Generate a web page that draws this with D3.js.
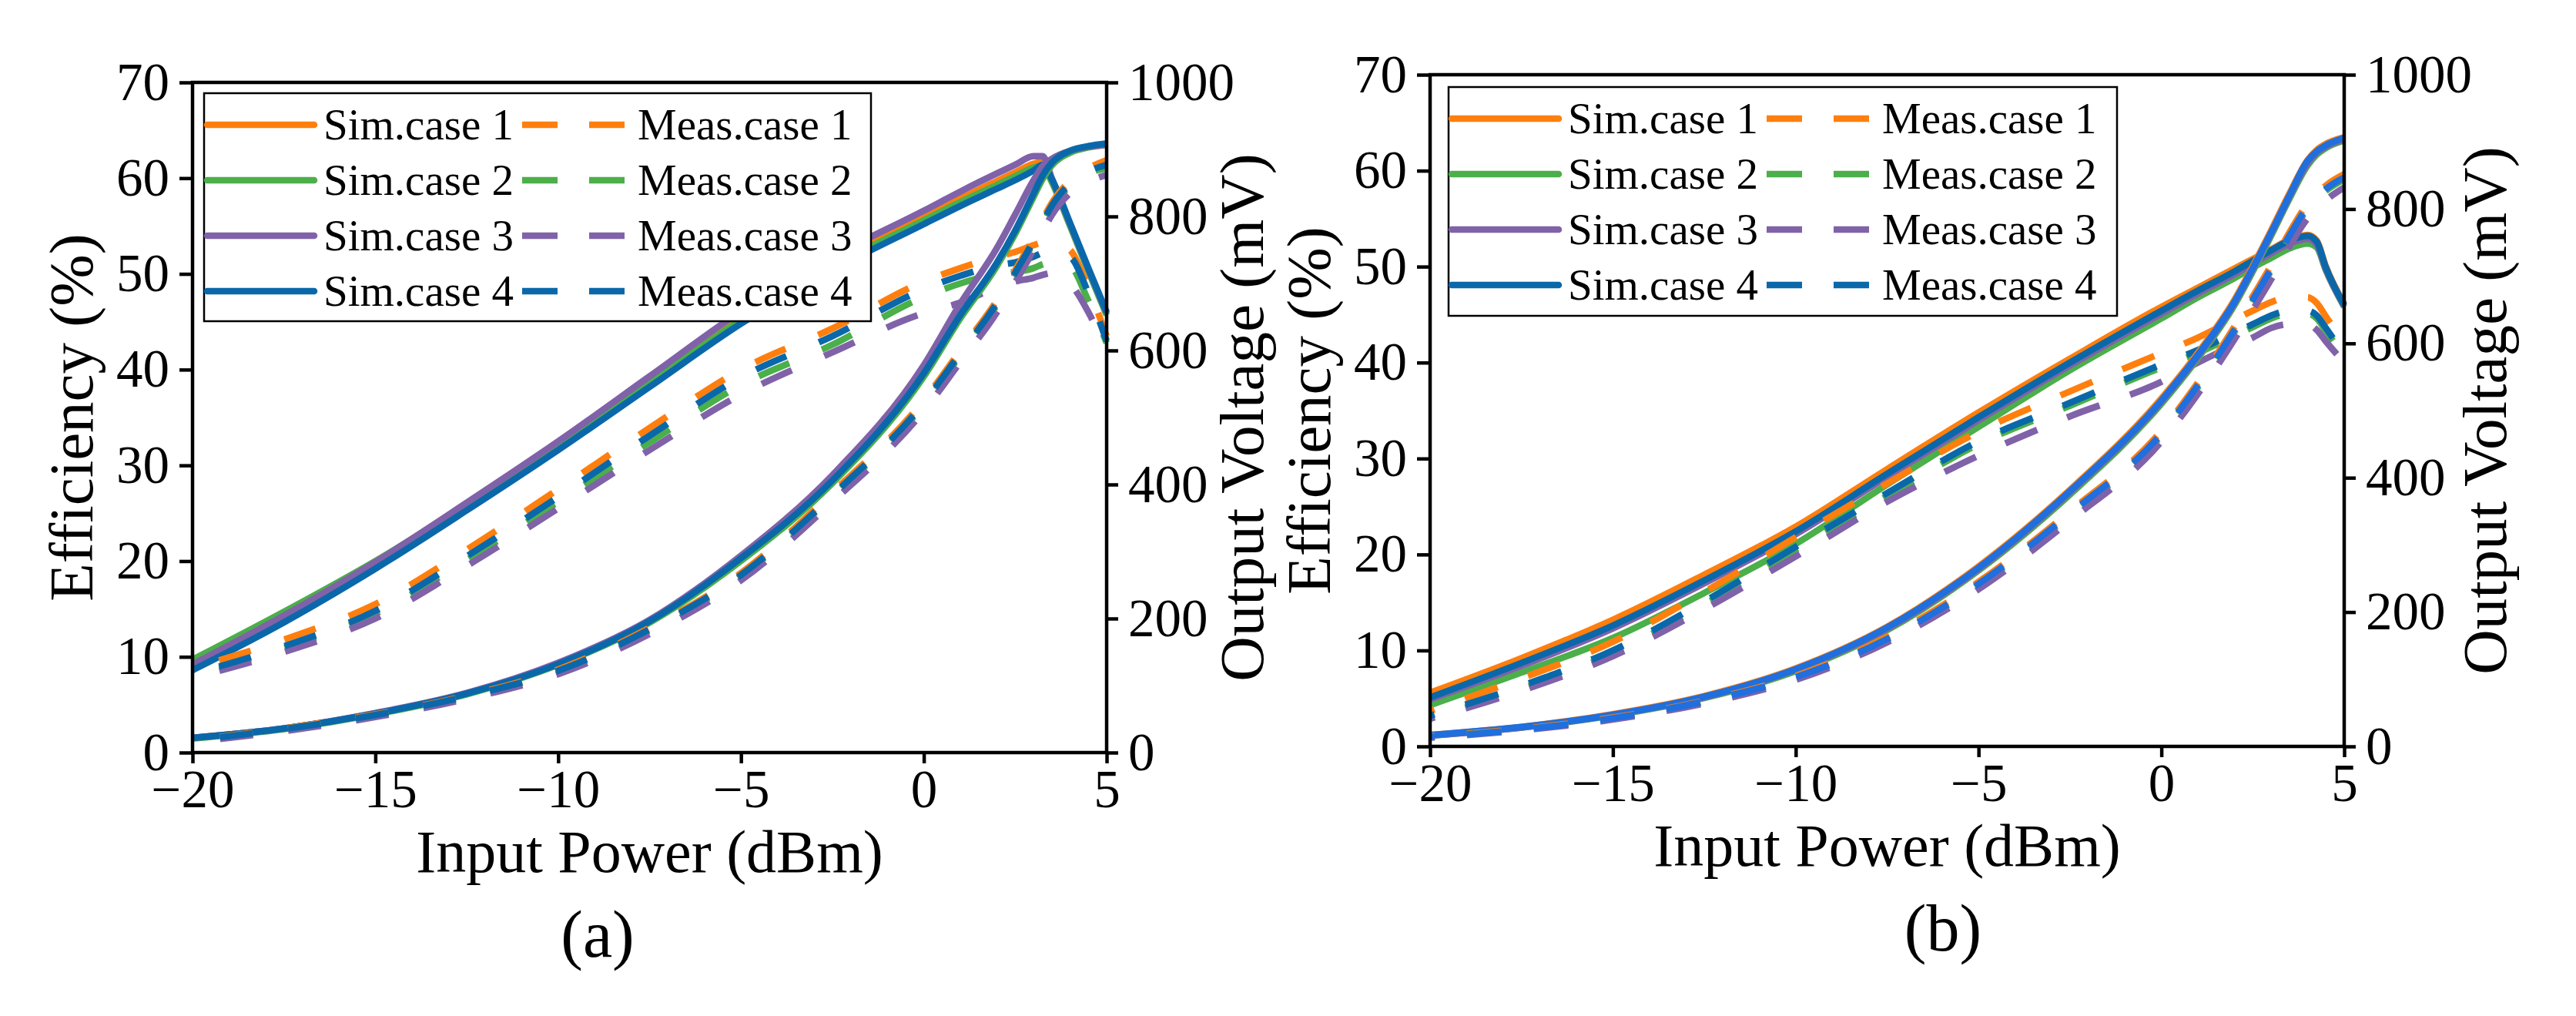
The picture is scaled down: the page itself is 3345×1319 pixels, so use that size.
<!DOCTYPE html>
<html lang="en">
<head>
<meta charset="UTF-8">
<title>Efficiency and output voltage vs input power</title>
<style>
    body { background: white; margin: 0; padding: 0; }
    svg text { font-family: "Liberation Serif", "Times New Roman", serif; fill: #000; }
</style>
</head>
<body>
<script src="https://cdn.jsdelivr.net/npm/d3@7"></script>
<script>
    // input power grid (dBm) for each panel
    var pinA = [-20, -17.5, -15, -12.5, -10, -7.5, -5, -2.5, 0, 1, 2, 2.5, 3, 3.25, 3.5, 4, 4.5, 5];
    var pinB = [-20, -17.5, -15, -12.5, -10, -7.5, -5, -2.5, 0, 1, 2, 2.5, 3, 3.5, 4, 4.25, 4.5, 5];

    var caseNames = ["case 1", "case 2", "case 3", "case 4"];

    // panel (a) efficiency (%), case 1..4
    var effSimA = [
        [9.3, 14.3, 19.8, 25.9, 32.2, 38.9, 45.6, 51.2, 56.0, 57.9, 59.7, 60.6, 61.5, 61.7, 59.8, 55.1, 50.4, 45.8],
        [9.7, 14.7, 20.0, 25.9, 32.0, 38.6, 45.2, 50.8, 55.6, 57.5, 59.3, 60.2, 61.1, 61.3, 59.6, 55.0, 50.3, 45.7],
        [9.2, 14.3, 19.9, 26.1, 32.5, 39.3, 46.1, 51.8, 56.6, 58.6, 60.5, 61.4, 62.3, 62.3, 60.0, 55.2, 50.5, 45.9],
        [8.6, 13.6, 19.2, 25.3, 31.6, 38.2, 44.8, 50.4, 55.2, 57.1, 58.9, 59.8, 60.8, 61.4, 59.9, 55.3, 50.6, 46.0]
    ];
    var effMeasA = [
        [8.8, 11.8, 15.5, 21.2, 27.5, 33.9, 40.0, 44.3, 49.2, 50.6, 51.8, 52.3, 53.0, 53.3, 53.4, 52.5, 48.5, 43.5],
        [8.0, 10.9, 14.5, 20.1, 26.2, 32.4, 38.4, 42.6, 47.6, 49.0, 50.0, 50.2, 50.6, 51.0, 51.2, 50.8, 47.2, 42.8],
        [7.8, 10.5, 14.0, 19.5, 25.5, 31.6, 37.4, 41.8, 45.9, 47.0, 48.6, 49.2, 49.6, 49.9, 50.1, 49.0, 46.0, 42.0],
        [8.2, 11.1, 14.8, 20.5, 26.7, 33.1, 39.2, 43.5, 48.4, 49.8, 50.9, 51.2, 51.8, 52.2, 52.4, 51.8, 48.0, 43.0]
    ];
    // panel (a) output voltage (mV)
    var voltSimA = [
        [22, 36, 58, 88, 132, 195, 288, 404, 563, 650, 728, 776, 831, 858, 877, 896, 904, 908],
        [21, 35, 57, 87, 131, 194, 286, 402, 561, 648, 726, 774, 829, 856, 876, 895, 903, 907],
        [22, 36, 59, 89, 134, 198, 294, 414, 578, 670, 753, 803, 854, 875, 886, 898, 904, 907],
        [22, 36, 58, 88, 132, 196, 290, 406, 566, 653, 731, 779, 834, 861, 880, 898, 905, 909]
    ];
    var voltMeasA = [
        [18, 36, 57, 85, 124, 186, 268, 388, 526, 600, 675, 720, 768, 795, 820, 853, 872, 884],
        [17, 34, 55, 83, 121, 182, 263, 382, 519, 593, 668, 713, 761, 788, 813, 846, 864, 872],
        [16, 32, 53, 80, 117, 177, 257, 374, 510, 583, 657, 702, 750, 777, 802, 835, 852, 862],
        [18, 35, 56, 84, 122, 184, 265, 384, 522, 596, 671, 716, 764, 791, 816, 849, 867, 877]
    ];

    // panel (b) efficiency (%)
    var effSimB = [
        [5.6, 9.2, 13.2, 17.9, 22.9, 28.9, 34.8, 40.4, 45.8, 47.8, 49.8, 50.8, 51.8, 52.8, 53.3, 52.7, 50.0, 46.1],
        [4.3, 7.7, 11.3, 16.0, 21.1, 27.3, 33.3, 39.2, 44.6, 46.8, 48.8, 49.9, 50.9, 51.9, 52.4, 52.0, 49.6, 45.8],
        [4.9, 8.4, 12.3, 17.0, 22.1, 28.1, 34.0, 39.7, 45.1, 47.2, 49.2, 50.3, 51.4, 52.4, 52.9, 52.3, 49.7, 45.9],
        [5.1, 8.7, 12.6, 17.3, 22.4, 28.4, 34.3, 40.0, 45.4, 47.5, 49.5, 50.6, 51.7, 52.7, 53.2, 52.6, 49.9, 46.0]
    ];
    var effMeasB = [
        [3.7, 7.1, 10.9, 16.1, 21.8, 27.4, 32.8, 37.0, 41.0, 42.6, 44.5, 45.4, 46.3, 46.8, 46.8, 46.2, 44.8, 42.0],
        [2.9, 6.0, 9.7, 14.8, 20.5, 26.1, 31.5, 35.5, 39.5, 41.0, 42.8, 43.7, 44.6, 45.1, 45.1, 44.6, 43.3, 40.6],
        [2.9, 5.8, 9.4, 14.3, 19.8, 25.5, 30.3, 34.4, 38.0, 40.0, 41.8, 42.6, 43.6, 44.0, 44.0, 43.4, 42.2, 40.0],
        [3.2, 6.3, 10.0, 15.1, 20.8, 26.4, 31.8, 35.8, 39.8, 41.3, 43.1, 44.0, 44.9, 45.4, 45.4, 44.9, 43.6, 40.8]
    ];
    // panel (b) output voltage (mV)
    var voltSimB = [
        [17, 29, 48, 75, 116, 178, 268, 382, 518, 586, 665, 715, 768, 823, 873, 888, 897, 907],
        [16, 28, 46, 72, 112, 173, 262, 375, 510, 578, 657, 707, 760, 815, 865, 881, 891, 902],
        [16, 28, 47, 73, 114, 175, 264, 378, 513, 581, 660, 710, 763, 818, 868, 884, 893, 904],
        [17, 29, 47, 74, 115, 177, 266, 380, 515, 583, 662, 712, 765, 820, 872, 886, 895, 906]
    ];
    var voltMeasB = [
        [15, 26, 43, 68, 105, 163, 245, 350, 470, 542, 625, 670, 716, 765, 808, 822, 835, 852],
        [14, 25, 41, 66, 102, 159, 240, 344, 463, 535, 617, 662, 708, 757, 800, 814, 827, 844],
        [13, 24, 40, 64, 99, 155, 234, 336, 454, 525, 606, 650, 695, 744, 786, 800, 813, 832],
        [14, 25, 42, 67, 103, 160, 242, 347, 466, 538, 620, 665, 711, 760, 803, 817, 830, 847]
    ];

    var pinTicks = [-20, -15, -10, -5, 0, 5];
    var effTicks = [0, 10, 20, 30, 40, 50, 60, 70];
    var voltTicks = [0, 200, 400, 600, 800, 1000];

    var caseColors = ["#FF7F0E", "#4BAF4A", "#8062A9", "#0A68AA"];
    var voltColorsB = ["#FF7F0E", "#4BAF4A", "#8062A9", "#1F6FDE"];

    var serif = "'Liberation Serif', 'Times New Roman', serif";

    var svg = d3.select("body").append("svg")
        .attr("width", 3345)
        .attr("height", 1319)
        .attr("font-family", serif);

    function drawPanel(p) {
        var x = d3.scaleLinear().domain([-20, 5]).range([p.left, p.left + p.width]);
        var yEff = d3.scaleLinear().domain([0, 70]).range([p.top + p.height, p.top]);
        var yVolt = d3.scaleLinear().domain([0, 1000]).range([p.top + p.height, p.top]);

        var g = svg.append("g");

        function lineFor(yScale) {
            return d3.line()
                .x(function(d, i) { return x(p.pin[i]); })
                .y(function(d) { return yScale(d); })
                .curve(d3.curveMonotoneX);
        }

        function drawGroup(series, yScale, colors, dashed) {
            g.append("g").selectAll("path")
                .data(series)
                .enter().append("path")
                .attr("d", lineFor(yScale))
                .attr("fill", "none")
                .attr("stroke", function(d, i) { return colors[i]; })
                .attr("stroke-width", 8.5)
                .attr("stroke-linejoin", "round")
                .attr("stroke-dasharray", dashed ? p.dash : null)
                .attr("stroke-dashoffset", dashed ? p.dashOffset : null);
        }

        drawGroup(p.effSim, yEff, caseColors, false);
        drawGroup(p.effMeas, yEff, caseColors, true);
        drawGroup(p.voltSim, yVolt, p.voltColors, false);
        drawGroup(p.voltMeas, yVolt, p.voltColors, true);

        // axes
        var bottom = p.top + p.height;
        var right = p.left + p.width;

        function styleAxis(sel) {
            sel.select(".domain").remove();
            sel.attr("font-size", null).attr("font-family", null);
            sel.selectAll("line").attr("stroke", "#000").attr("stroke-width", 4.5);
            sel.selectAll("text")
                .attr("font-size", 69)
                .style("font-family", serif);
        }

        g.append("g")
            .attr("transform", "translate(0," + bottom + ")")
            .call(d3.axisBottom(x).tickValues(pinTicks).tickFormat(d3.format("d"))
                .tickSize(14).tickPadding(8))
            .call(styleAxis);

        g.append("g")
            .attr("transform", "translate(" + p.left + ",0)")
            .call(d3.axisLeft(yEff).tickValues(effTicks).tickFormat(d3.format("d"))
                .tickSize(17).tickPadding(13))
            .call(styleAxis);

        g.append("g")
            .attr("transform", "translate(" + right + ",0)")
            .call(d3.axisRight(yVolt).tickValues(voltTicks).tickFormat(d3.format("d"))
                .tickSize(15).tickPadding(13))
            .call(styleAxis);

        g.append("rect")
            .attr("x", p.left).attr("y", p.top)
            .attr("width", p.width).attr("height", p.height)
            .attr("fill", "none")
            .attr("stroke", "#000")
            .attr("stroke-width", 4.5);

        // legend
        var lg = g.append("g").attr("transform", "translate(" + p.legX + "," + p.legY + ")");
        lg.append("rect")
            .attr("width", p.legW).attr("height", p.legH)
            .attr("fill", "#fff")
            .attr("stroke", "#000")
            .attr("stroke-width", 2.5);

        var rows = lg.selectAll("g.row")
            .data(caseNames)
            .enter().append("g")
            .attr("class", "row")
            .attr("transform", function(d, i) { return "translate(0," + (41 + i * 72) + ")"; });

        rows.append("line")
            .attr("x1", 4).attr("x2", 143)
            .attr("stroke", function(d, i) { return caseColors[i]; })
            .attr("stroke-width", 8.5)
            .attr("stroke-linecap", "round");
        rows.append("text")
            .attr("x", 155).attr("y", 19)
            .attr("font-size", 57)
            .style("font-family", serif)
            .text(function(d) { return "Sim." + d; });
        rows.append("line")
            .attr("x1", 413).attr("x2", 546)
            .attr("stroke", function(d, i) { return caseColors[i]; })
            .attr("stroke-width", 8.5)
            .attr("stroke-dasharray", "46,41");
        rows.append("text")
            .attr("x", 563).attr("y", 19)
            .attr("font-size", 57)
            .style("font-family", serif)
            .text(function(d) { return "Meas." + d; });

        // titles
        g.append("text")
            .attr("transform", "translate(" + p.effTitleX + "," + (p.top + p.height / 2) + ") rotate(-90)")
            .attr("text-anchor", "middle")
            .attr("font-size", 81)
            .style("font-family", serif)
            .text("Efficiency (%)");
        g.append("text")
            .attr("transform", "translate(" + p.voltTitleX + "," + (p.top + p.height / 2) + ") rotate(-90)")
            .attr("text-anchor", "middle")
            .attr("font-size", 81)
            .style("font-family", serif)
            .text("Output Voltage (mV)");
        g.append("text")
            .attr("x", p.left + p.width / 2)
            .attr("y", bottom + 155)
            .attr("text-anchor", "middle")
            .attr("font-size", 78)
            .style("font-family", serif)
            .text("Input Power (dBm)");
        g.append("text")
            .attr("x", p.tagX)
            .attr("y", bottom + 265)
            .attr("text-anchor", "middle")
            .attr("font-size", 86)
            .style("font-family", serif)
            .text(p.tag);
    }

    drawPanel({
        left: 250, top: 107, width: 1187, height: 870,
        pin: pinA,
        effSim: effSimA, effMeas: effMeasA, voltSim: voltSimA, voltMeas: voltMeasA,
        voltColors: caseColors,
        dash: "43,46", dashOffset: 53,
        legX: 265, legY: 121, legW: 866, legH: 296,
        effTitleX: 120, voltTitleX: 1640,
        tag: "(a)", tagX: 776
    });

    drawPanel({
        left: 1857, top: 97, width: 1187, height: 872,
        pin: pinB,
        effSim: effSimB, effMeas: effMeasB, voltSim: voltSimB, voltMeas: voltMeasB,
        voltColors: voltColorsB,
        dash: "45,42", dashOffset: 39,
        legX: 1881, legY: 113, legW: 868, legH: 297,
        effTitleX: 1727, voltTitleX: 3254,
        tag: "(b)", tagX: 2523
    });
</script>
</body>
</html>
